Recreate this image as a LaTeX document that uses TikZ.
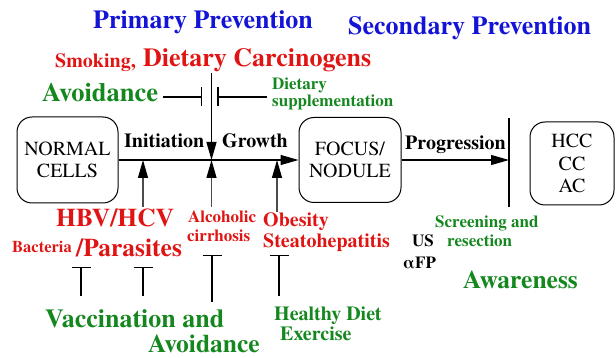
\documentclass[tikz,border=0pt]{standalone}
\usepackage{fontspec}
\setmainfont{texgyretermes}[Extension=.otf, UprightFont=*-regular, BoldFont=*-bold]
\usetikzlibrary{arrows.meta}

\definecolor{prevblue}{RGB}{20,20,215}
\definecolor{riskred}{RGB}{225,20,20}
\definecolor{actgreen}{RGB}{20,135,30}

\tikzset{
  stage/.style={draw, line width=1pt, rounded corners=15pt, align=center,
    inner sep=0pt, font=\fontsize{20}{22.5}\selectfont},
  lbl/.style={inner sep=0pt, anchor=base west, font=\bfseries\fontsize{#1}{#1}\selectfont},
  lbl/.default=20,
  arr/.style={line width=1.2pt, -{Triangle[length=18pt,width=10pt,color=black]}},
  inh/.style={line width=1.5pt, -{Bar[width=19pt]}},
}

\begin{document}
\begin{tikzpicture}[x=1pt,y=-1pt]
        \useasboundingbox (0,0) rectangle (616,358);
        % stages
        \node[stage, minimum width=101pt, minimum height=86pt] (normal) at (67.5,160) {NORMAL\\CELLS};
        \node[stage, minimum width=102pt, minimum height=85pt] (focus) at (350,160) {FOCUS/\\NODULE};
        \node[stage, minimum width=84pt, minimum height=83pt] (cancer) at (572,163.5) {HCC\\CC\\AC};
        \coordinate (bartop) at (509,118);
        \coordinate (barbot) at (509,207);
        \coordinate (barmid) at (509,160);
        \draw[arr] (normal) -- (focus);
        \draw[arr] (focus) -- (barmid);
        \draw[line width=2pt] (bartop) -- (barbot);
        \node[lbl] (init) at (124,148) {Initiation};
        \node[lbl] (grow) at (222,148) {Growth};
        \node[lbl] (prog) at (405,150) {Progression};
        % headings
        \node[lbl=26, prevblue] (prim) at (93,29) {Primary Prevention};
        \node[lbl=26, prevblue] (sec) at (348,35) {Secondary Prevention};
        % risk factors
        \node[lbl=20, riskred] (smok) at (55,68) {Smoking,};
        \node[lbl=26, riskred] (carc) at (143,67) {Dietary Carcinogens};
        \node[lbl=25.5, riskred] (hbv) at (56,227) {HBV/HCV};
        \node[lbl=16.5, riskred] (bact) at (12,253) {Bacteria};
        \node[lbl=25.5, riskred] (para) at (76,257) {/Parasites};
        \node[lbl=17, riskred] (alc) at (188,223) {Alcoholic};
        \node[lbl=17, riskred] (cirr) at (187,242) {cirrhosis};
        \node[lbl=20, riskred] (obes) at (263,227) {Obesity};
        \node[lbl=20, riskred] (steat) at (263,248) {Steatohepatitis};
        % actions
        \node[lbl=26.5, actgreen] (avoid) at (42,102) {Avoidance};
        \node[lbl=17, actgreen] (diet) at (272,90) {Dietary};
        \node[lbl=17, actgreen] (supp) at (272,107) {supplementation};
        \node[lbl=26, actgreen] (vacc) at (45,327) {Vaccination and};
        \node[lbl=25.5, actgreen] (avoidb) at (148,352) {Avoidance};
        \node[lbl=20, actgreen] (hdiet) at (274,320) {Healthy Diet};
        \node[lbl=20, actgreen] (exer) at (280,340) {Exercise};
        \node[lbl=17, actgreen] (scr) at (435,228) {Screening and};
        \node[lbl=17, actgreen] (resec) at (447,247) {resection};
        \node[lbl=25.5, actgreen] (aware) at (463,288) {Awareness};
        \node[lbl=17] (us) at (412,247) {US};
        \node[lbl=17] (afp) at (403,269) {αFP};
        % arrows onto the main line
        \foreach \n/\x/\b in {1/143/207, 2/211.5/207, 3/277/212} {
            \coordinate (j\n) at (\x,160);
            \coordinate (s\n) at (\x,\b);
            \draw[arr, draw=black!70] (s\n) -- (j\n);
        }
        \draw[arr] (j2 |- carc.south) -- (j2);
        % inhibitors
        \coordinate (avend) at (163,97);
        \coordinate (lbar) at (202,97);
        \coordinate (dsend) at (267,97);
        \coordinate (rbar) at (217,97);
        \draw[inh] (avend) -- (lbar);
        \draw[inh] (dsend) -- (rbar);
        \foreach \i/\x/\t/\b in {1/81/267/296, 2/143/267/296, 3/212/255/302, 4/279/255/296} {
            \coordinate (tt\i) at (\x,\t);
            \coordinate (tb\i) at (\x,\b);
            \draw[inh] (tb\i) -- (tt\i);
        }
\end{tikzpicture}
\end{document}
